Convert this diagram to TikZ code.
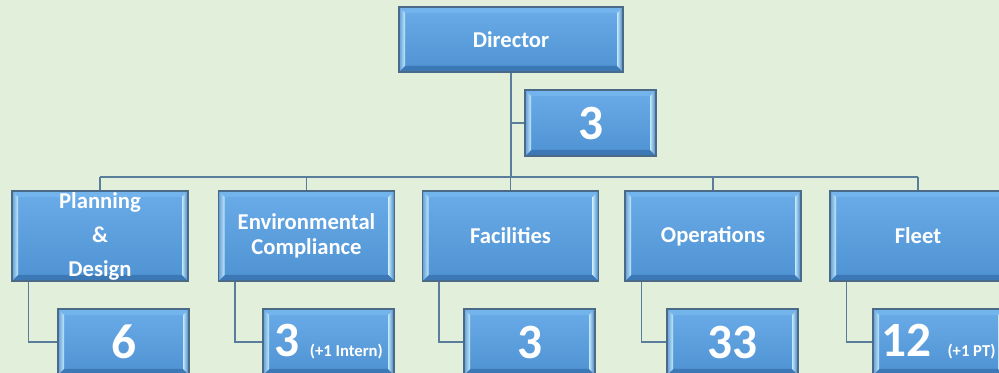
\documentclass[tikz,border=0pt]{standalone}
\usepackage{fontspec}
\setmainfont{Carlito}
\usetikzlibrary{calc}
\definecolor{bgc}{HTML}{E2EFDA}
\definecolor{boxline}{HTML}{4A6A88}
\definecolor{boxtop}{HTML}{6AACE8}
\definecolor{boxbot}{HTML}{4F92D2}
\definecolor{bevtop}{HTML}{74B4EC}
\definecolor{bevbot}{HTML}{3C78B5}
\definecolor{bevlight}{HTML}{C2E9FB}
\definecolor{bevdark}{HTML}{3F7EBE}
\definecolor{conn}{HTML}{5B7D9C}
\tikzset{
  bevelbox/.style={draw=boxline, line width=0.8pt, top color=boxtop, bottom color=boxbot,
    inner sep=0pt, text=white, font=\bfseries, align=center,
    path picture={
      \path (path picture bounding box.north west) coordinate (ppnw)
            (path picture bounding box.south east) coordinate (ppse);
      \fill[bevtop] (ppnw) -- (ppse |- ppnw) -- ([shift={(-4.5pt,-4.5pt)}]ppse |- ppnw)
          -- ([shift={(4.5pt,-4.5pt)}]ppnw) -- cycle;
      \fill[bevbot] (ppse) -- (ppnw |- ppse) -- ([shift={(4.5pt,4.5pt)}]ppnw |- ppse)
          -- ([shift={(-4.5pt,4.5pt)}]ppse) -- cycle;
      \shade[left color=boxbot!90!white, right color=bevlight] (ppnw) -- ([shift={(4.5pt,-4.5pt)}]ppnw)
          -- ([shift={(4.5pt,4.5pt)}]ppnw |- ppse) -- (ppnw |- ppse) -- cycle;
      \shade[left color=bevlight, right color=bevdark] (ppse) -- (ppse |- ppnw)
          -- ([shift={(-4.5pt,-4.5pt)}]ppse |- ppnw) -- ([shift={(-4.5pt,4.5pt)}]ppse) -- cycle;
    }},
  topbox/.style={bevelbox, minimum width=168pt, minimum height=48.75pt, font=\bfseries\fontsize{17}{20}\selectfont},
  deptbox/.style={bevelbox, minimum width=132pt, minimum height=67.5pt, font=\bfseries\fontsize{17}{19}\selectfont},
  numbox/.style={bevelbox, minimum width=98.25pt, minimum height=49.5pt, font=\bfseries\fontsize{37}{40}\selectfont},
  conline/.style={draw=conn, line width=1.2pt},
}
\newcommand{\smallnote}[2]{\hspace{#1}{\fontsize{12.5}{14}\selectfont #2}}
\begin{document}
\begin{tikzpicture}[x=0.75pt,y=-0.75pt]
\fill[bgc] (0,0) rectangle (999,373);
\useasboundingbox (0,0) rectangle (999,373);

\coordinate (busL) at (100,177);
\coordinate (busR) at (918,177);
\coordinate (busM) at (511,177);

\node[topbox] (dir) at (511,39.5) {Director};
\node[numbox] (d3) at (590.5,123) {3};

\node[deptbox] (pd) at (100,236) {Planning\\[7pt]\&\\[6pt]Design};
\node[deptbox] (ec) at (306.5,236) {Environmental\\Compliance};
\node[deptbox] (fa) at (510.5,236) {Facilities};
\node[deptbox] (op) at (713,236) {Operations};
\node[deptbox] (fl) at (918,236) {Fleet};

\node[numbox] (pd6) at (123.5,342) {6};
\node[numbox] (ec3) at (328.5,342) {3\smallnote{8pt}{(+1 Intern)}};
\node[numbox] (fa3) at (529.5,342) {3};
\node[numbox] (op33) at (732.5,342) {33};
\node[numbox] (fl12) at (938.5,342) {12\smallnote{12pt}{(+1 PT)}};

\draw[conline] (dir.south) -- (busM);
\draw[conline] (dir.south |- d3.west) -- (d3.west);
\draw[conline] (busL) -- (busR);
\foreach \n in {pd,ec,fa,op,fl}{
  \draw[conline] (\n.north) -- (\n.north |- busL);
}
\foreach \p/\s in {pd/pd6,ec/ec3,fa/fa3,op/op33,fl/fl12}{
  \draw[conline] ([xshift=12.75pt]\p.south west) |- (\s.west);
}
\end{tikzpicture}
\end{document}
